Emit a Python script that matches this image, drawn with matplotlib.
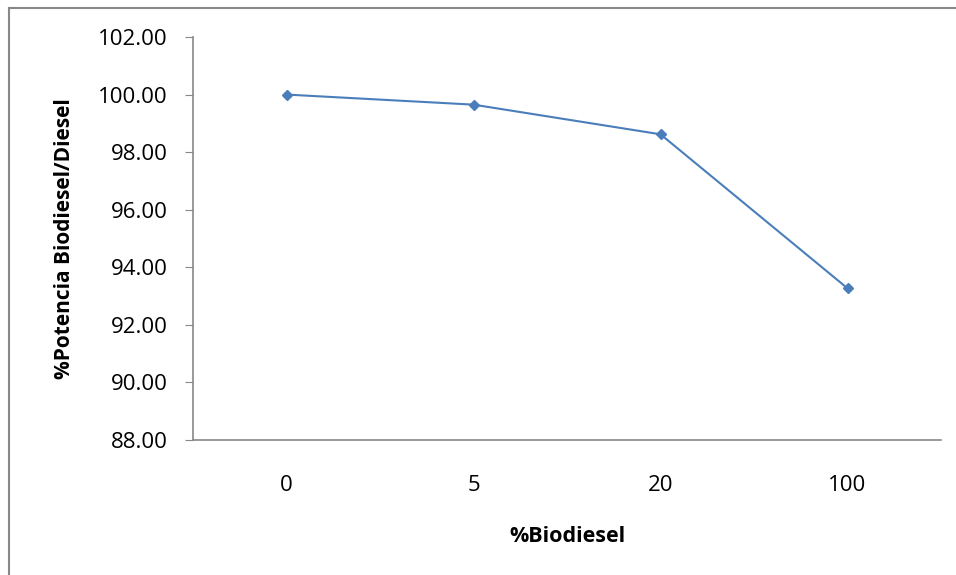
import matplotlib.pyplot as plt
from matplotlib.lines import Line2D

# Data
categorias = ['0', '5', '20', '100']
potencia = [100.00, 99.65, 98.62, 93.27]
yticks = [88, 90, 92, 94, 96, 98, 100, 102]

plt.rcParams['font.family'] = ['Open Sans', 'DejaVu Sans']

fig = plt.figure(figsize=(9.56, 5.75), dpi=100)
ax = fig.add_axes([193 / 956, 1 - 440 / 575, 748 / 956, 403 / 575])

x = range(len(categorias))
ax.plot(x, potencia, color='#4A7EBB', linewidth=1.5, marker='D', markersize=5.5)

ax.set_xlim(-0.5, len(categorias) - 0.5)
ax.set_ylim(88, 102)
ax.set_yticks(yticks)
ax.set_yticklabels([f'{v:.2f}' for v in yticks], fontsize=16)
ax.set_xticks(list(x))
ax.set_xticklabels(categorias, fontsize=16)
ax.tick_params(axis='x', length=0, pad=25)
ax.tick_params(axis='y', direction='out', length=5.5, color='#878787', pad=13)

for s in ['top', 'right']:
    ax.spines[s].set_visible(False)
for s in ['left', 'bottom']:
    ax.spines[s].set_color('#878787')
    ax.spines[s].set_linewidth(1.2)

ax.set_xlabel('%Biodiesel', fontsize=15.5, fontweight='bold', labelpad=22)
ax.set_ylabel('%Potencia Biodiesel/Diesel', fontsize=15, fontweight='bold', labelpad=16)

# outer chart frame (top and left edges visible)
fig.add_artist(Line2D([9 / 956, 1], [1 - 8 / 575, 1 - 8 / 575], color='#888888', linewidth=1.5,
                      transform=fig.transFigure))
fig.add_artist(Line2D([9 / 956, 9 / 956], [0, 1 - 8 / 575], color='#888888', linewidth=1.5,
                      transform=fig.transFigure))

fig.savefig('out.png', dpi=100)
